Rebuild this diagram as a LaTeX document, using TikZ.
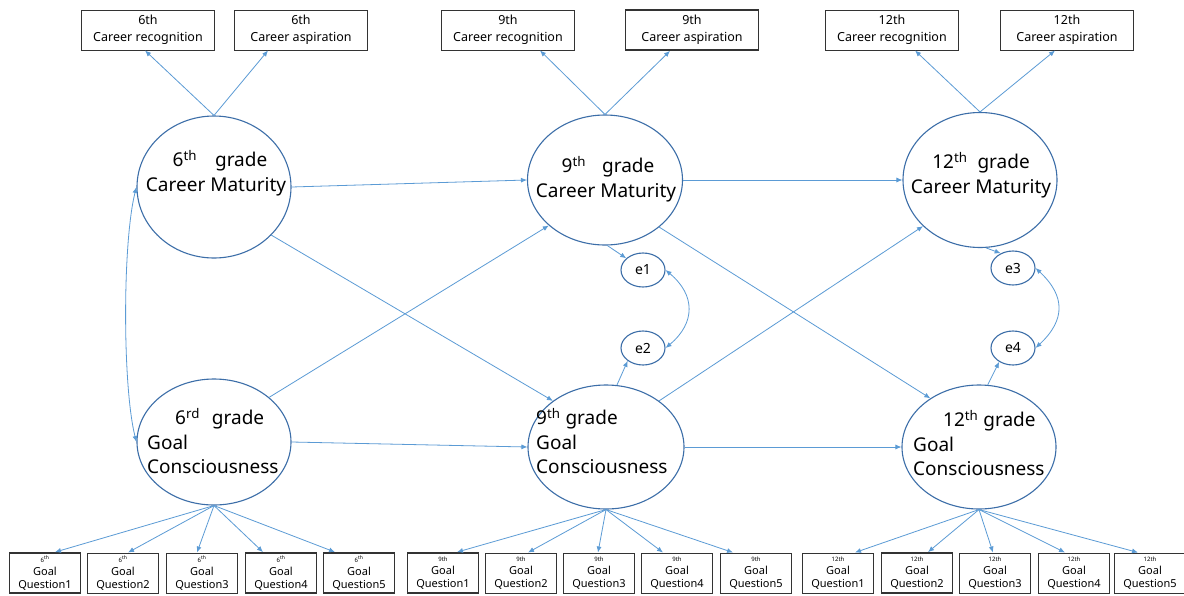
\documentclass[tikz,border=0pt]{standalone}
\usepackage{fontspec}
\setmainfont{Noto Sans}
\usetikzlibrary{arrows.meta,shapes.geometric}
\definecolor{arrowblue}{HTML}{5B9BD5}
\definecolor{ellblue}{HTML}{3C6EA8}
\tikzset{
  latent/.style={ellipse,draw=ellblue,line width=1.1pt,inner sep=0pt},
  errnode/.style={ellipse,draw=ellblue,line width=1.1pt,inner sep=0pt,minimum width=44pt,minimum height=34pt,font=\fontsize{14}{16}\selectfont},
  topbox/.style={draw=black!80,line width=1pt,minimum width=133pt,minimum height=40pt,inner sep=0pt,align=center,font=\fontsize{12.5}{17}\selectfont},
  qbox/.style={draw=black!80,line width=1pt,minimum width=71pt,minimum height=40pt,inner sep=0pt,align=center,font=\fontsize{11}{13}\selectfont},
  thickbox/.style={line width=1.8pt},
  arr/.style={draw=arrowblue,line width=0.8pt,-{Latex[length=6pt,width=5pt]}},
  biarr/.style={draw=arrowblue,line width=0.8pt,{Latex[length=6pt,width=5pt]}-{Latex[length=6pt,width=5pt]}},
  lbl/.style={font=\fontsize{19}{24.5}\selectfont,inner sep=0pt}
}
\newcommand{\tinysup}[1]{{\fontsize{6}{6}\selectfont #1}}
\begin{document}
\begin{tikzpicture}[x=1pt,y=-1pt]
\useasboundingbox (0,0) rectangle (1184,595);
\fill[white] (0,0) rectangle (1184,595);
% top boxes
\node[topbox] (rec6) at (148,30) {6th\\Career recognition};
\node[topbox] (asp6) at (301,30) {6th\\Career aspiration};
\node[topbox] (rec9) at (508,30) {9th\\Career recognition};
\node[topbox,thickbox] (asp9) at (692,30) {9th\\Career aspiration};
\node[topbox] (rec12) at (892,30) {12th\\Career recognition};
\node[topbox] (asp12) at (1067,30) {12th\\Career aspiration};
% latent ellipses
\node[latent,minimum width=154pt,minimum height=142pt] (cm6) at (214,187) {};
\node[latent,minimum width=155pt,minimum height=130pt] (cm9) at (605,180) {};
\node[latent,minimum width=154pt,minimum height=135pt] (cm12) at (980,180) {};
\node[latent,minimum width=154pt,minimum height=126pt] (gc6) at (214,442) {};
\node[latent,minimum width=156pt,minimum height=124pt] (gc9) at (606,447) {};
\node[latent,minimum width=154pt,minimum height=124pt] (gc12) at (979,447) {};
% labels
\node[lbl,align=center] (tcm6) at (216,173) {\hspace{8pt}6\textsuperscript{th}\hspace{18pt}grade\\Career Maturity};
\node[lbl,align=center] (tcm9) at (606,179) {\hspace{4pt}9\textsuperscript{th}\hspace{16pt}grade\\Career Maturity};
\node[lbl,align=center] (tcm12) at (981,175) {12\textsuperscript{th}\hspace{10pt}grade\\Career Maturity};
\node[lbl,align=left,anchor=west] (tgc6) at (147,441) {\hspace{28pt}6\textsuperscript{rd}\hspace{12pt}grade\\Goal\\Consciousness};
\node[lbl,align=left,anchor=west] (tgc9) at (536,441) {9\textsuperscript{th} grade\\Goal\\Consciousness};
\node[lbl,align=left,anchor=west] (tgc12) at (913,443) {\hspace{30pt}12\textsuperscript{th} grade\\Goal\\Consciousness};
% error terms
\node[errnode] (e1) at (643,270) {e1};
\node[errnode] (e2) at (643,348) {e2};
\node[errnode] (e3) at (1013,268) {e3};
\node[errnode] (e4) at (1013,348) {e4};
% question boxes
\node[qbox,thickbox] (q61) at (45,573) {\tinysup{6\textsuperscript{th}}\\Goal\\Question1};
\node[qbox] (q62) at (123,573) {\tinysup{6\textsuperscript{th}}\\Goal\\Question2};
\node[qbox] (q63) at (202,573) {\tinysup{6\textsuperscript{th}}\\Goal\\Question3};
\node[qbox,thickbox] (q64) at (281,573) {\tinysup{6\textsuperscript{th}}\\Goal\\Question4};
\node[qbox,thickbox] (q65) at (359,573) {\tinysup{6\textsuperscript{th}}\\Goal\\Question5};
\node[qbox,thickbox] (q91) at (443,573) {\tinysup{9th}\\Goal\\Question1};
\node[qbox] (q92) at (521,573) {\tinysup{9th}\\Goal\\Question2};
\node[qbox] (q93) at (599,573) {\tinysup{9th}\\Goal\\Question3};
\node[qbox] (q94) at (677,573) {\tinysup{9th}\\Goal\\Question4};
\node[qbox] (q95) at (756,573) {\tinysup{9th}\\Goal\\Question5};
\node[qbox] (q121) at (838,573) {\tinysup{12th}\\Goal\\Question1};
\node[qbox,thickbox] (q122) at (917,573) {\tinysup{12th}\\Goal\\Question2};
\node[qbox] (q123) at (995,573) {\tinysup{12th}\\Goal\\Question3};
\node[qbox] (q124) at (1074,573) {\tinysup{12th}\\Goal\\Question4};
\node[qbox] (q125) at (1150,573) {\tinysup{12th}\\Goal\\Question5};
% indicator arrows (top)
\draw[arr] (cm6.north) -- ([xshift=-3pt]rec6.south);
\draw[arr] (cm6.north) -- ([xshift=-33pt]asp6.south);
\draw[arr] (cm9.north) -- ([xshift=32pt]rec9.south);
\draw[arr] (cm9.north) -- ([xshift=-22pt]asp9.south);
\draw[arr] (cm12.north) -- ([xshift=23pt]rec12.south);
\draw[arr] (cm12.north) -- ([xshift=-12pt]asp12.south);
% structural paths
\draw[arr] (cm6.east) -- (cm9.west);
\draw[arr] (cm9.east) -- (cm12.west);
\draw[arr] (gc6.east) -- (gc9.west);
\draw[arr] (gc9.east) -- (gc12.west);
\draw[arr] (cm6.-40) -- (gc9.139);
\draw[arr] (gc6.39) -- (cm9.219);
\draw[arr] (cm9.-41) -- (gc12.135);
\draw[arr] (gc9.41) -- (cm12.219);
% residuals
\draw[arr] (cm9.-88) -- (e1.145);
\draw[arr] (gc9.80) -- (e2.220);
\draw[arr] (cm12.-85) -- (e3.130);
\draw[arr] (gc12.82) -- (e4.225);
% covariances
\draw[biarr] (cm6.west) .. controls +(-14,55) and +(-14,-55) .. (gc6.west);
\draw[biarr] (e1.east) .. controls +(30,25) and +(30,-25) .. (e2.east);
\draw[biarr] (e3.east) .. controls +(30,28) and +(30,-28) .. (e4.east);
% question arrows
\draw[arr] (gc6.south) -- ([xshift=10pt]q61.north);
\draw[arr] (gc6.south) -- ([xshift=5pt]q62.north);
\draw[arr] (gc6.south) -- ([xshift=-5pt]q63.north);
\draw[arr] (gc6.south) -- ([xshift=-18pt]q64.north);
\draw[arr] (gc6.south) -- ([xshift=-24pt]q65.north);
\draw[arr] (gc9.south) -- ([xshift=14pt]q91.north);
\draw[arr] (gc9.south) -- ([xshift=7pt]q92.north);
\draw[arr] (gc9.south) -- ([xshift=-1pt]q93.north);
\draw[arr] (gc9.south) -- ([xshift=-14pt]q94.north);
\draw[arr] (gc9.south) -- ([xshift=-23pt]q95.north);
\draw[arr] (gc12.south) -- ([xshift=17pt]q121.north);
\draw[arr] (gc12.south) -- ([xshift=11pt]q122.north);
\draw[arr] (gc12.south) -- ([xshift=-2pt]q123.north);
\draw[arr] (gc12.south) -- ([xshift=-9pt]q124.north);
\draw[arr] (gc12.south) -- ([xshift=-12pt]q125.north);
\end{tikzpicture}
\end{document}
